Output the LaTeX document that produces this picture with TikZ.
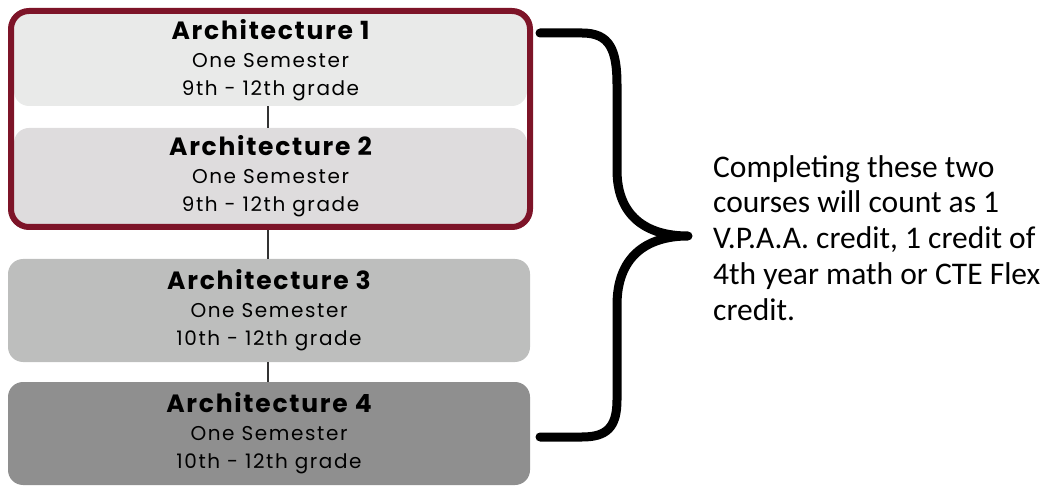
\documentclass[tikz,border=0pt]{standalone}
\usepackage{fontspec}
\newfontfamily\boxfont[LetterSpace=8]{Poppins}
\newfontfamily\titlefont[LetterSpace=7]{Poppins}
\newfontfamily\sidefont{Carlito}
\definecolor{cA}{HTML}{E9EAE9}
\definecolor{cB}{HTML}{DEDCDD}
\definecolor{cC}{HTML}{BDBEBD}
\definecolor{cD}{HTML}{8F8F8F}
\definecolor{maroon}{HTML}{7D1428}
\definecolor{linkgray}{HTML}{333333}
\newcommand{\coursetext}[2]{{\titlefont\bfseries\fontsize{25}{27}\selectfont #1}\\{\fontsize{20}{28}\selectfont One Semester}\\{\fontsize{20}{27}\selectfont #2}}
\tikzset{
  coursebox/.style={rounded corners=15pt, inner sep=0pt, align=center, font=\boxfont\fontsize{20}{28}\selectfont, text=black},
  link/.style={draw=linkgray, line width=2pt},
  frame/.style={draw=maroon, line width=6pt, rounded corners=18pt},
  brace/.style={draw=black, line width=9pt, line cap=round, line join=round},
  sidenote/.style={font=\sidefont\fontsize{31.5}{35.8}\selectfont, align=left, inner sep=0pt, text=black}
}
\begin{document}
\begin{tikzpicture}[x=1pt,y=-1pt]
\useasboundingbox (0,0) rectangle (1047,486);
% boxes
\node[coursebox, fill=cA, minimum width=513pt, minimum height=92pt] (a1) at (270.5,60) {\coursetext{Architecture 1}{9th - 12th grade}};
\node[coursebox, fill=cB, minimum width=513pt, minimum height=96pt] (a2) at (270.5,176) {\coursetext{Architecture 2}{9th - 12th grade}};
\node[coursebox, fill=cC, minimum width=522pt, minimum height=103pt] (a3) at (269,310.5) {\coursetext{Architecture 3}{10th - 12th grade}};
\node[coursebox, fill=cD, minimum width=522pt, minimum height=103pt] (a4) at (269,433.5) {\coursetext{Architecture 4}{10th - 12th grade}};
% connectors
\draw[link] (a1.south -| 268,0) -- (a2.north -| 268,0);
\draw[link] (a2.south -| 268,0) -- (a3.north -| 268,0);
\draw[link] (a3.south -| 268,0) -- (a4.north -| 268,0);
% frame around first two
\node[frame, minimum width=519pt, minimum height=216pt, inner sep=0pt] (grp) at (270.5,119) {};
% brace
\coordinate (btop) at (540,33);
\coordinate (btip) at (688,236);
\coordinate (bbot) at (540,437);
\draw[brace] (btop) -- (582,33) .. controls (610,33) and (617,50) .. (617,85) -- (617,170) .. controls (617,215) and (645,236) .. (btip) .. controls (645,236) and (617,258) .. (617,305) -- (617,400) .. controls (617,428) and (606,437) .. (582,437) -- (bbot);
% note
\node[sidenote, anchor=north west] (note) at (713,155) {Completing these two\\courses will count as 1\\V.P.A.A. credit, 1 credit of\\4th year math or CTE Flex\\credit.};
\end{tikzpicture}
\end{document}
